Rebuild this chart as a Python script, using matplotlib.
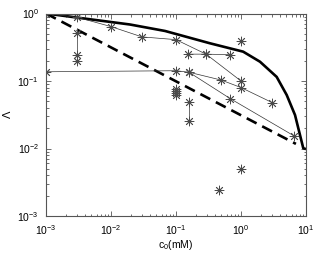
import matplotlib
matplotlib.use("Agg")
import matplotlib.pyplot as plt
import numpy as np

plt.rcParams['font.family'] = ['Liberation Sans', 'DejaVu Sans']
plt.rcParams['mathtext.default'] = 'regular'

# theory curves
curve_c = [0.001, 0.0196, 0.0678, 0.333, 1.08, 1.96, 3.54, 5.05, 6.78, 8.09, 9.08, 10.0]
curve_L = [1.0, 0.687, 0.551, 0.362, 0.272, 0.193, 0.115, 0.062, 0.0313, 0.0158, 0.0101, 0.0098]
dash_c = [0.001, 7.0]
dash_L = [1.0, 0.0117]

# connected data series
s1_c = [0.001, 0.003, 0.01, 0.03, 0.1, 0.29, 1.0]
s1_L = [1.0, 0.88, 0.64, 0.45, 0.41, 0.25, 0.1]
s2_c = [0.001, 0.1, 0.158, 0.5, 1.0, 3.0]
s2_L = [0.137, 0.142, 0.135, 0.103, 0.08, 0.048]
s3_c = [0.158, 0.68, 6.6]
s3_L = [0.135, 0.055, 0.0153]
s4_c = [0.155, 0.29, 0.68]
s4_L = [0.25, 0.25, 0.245]
s5_c = [0.003, 0.003, 0.003]
s5_L = [0.51, 0.24, 0.198]
s6_c = [0.158, 0.158]
s6_L = [0.049, 0.0255]

# isolated points
iso_c = [1.0, 0.1, 0.1, 0.1, 0.1, 1.0, 0.46]
iso_L = [0.395, 0.075, 0.07, 0.066, 0.062, 0.0049, 0.0024]

fig = plt.figure(figsize=(3.19, 2.57), dpi=100)
ax = fig.add_axes([46/319, 1-216/257, 260/319, 202.5/257])

ax.plot(curve_c, curve_L, color='black', lw=1.9, solid_capstyle='butt')
ax.plot(dash_c, dash_L, color='black', lw=1.9, dashes=(4.2, 2.4))

star = dict(marker=(8, 2, 0), markersize=6.8, markeredgewidth=0.6,
            markeredgecolor='#4a4a4a', markerfacecolor='none')
for xs, ys in [(s1_c, s1_L), (s2_c, s2_L), (s3_c, s3_L), (s4_c, s4_L),
               (s5_c, s5_L), (s6_c, s6_L)]:
    ax.plot(xs, ys, color='#333333', lw=0.5, **star)
ax.plot(iso_c, iso_L, linestyle='none', **star)

ax.set_xscale('log')
ax.set_yscale('log')
ax.set_xlim(1e-3, 10)
ax.set_ylim(1e-3, 1)

for sp in ax.spines.values():
    sp.set_color('#555555')
    sp.set_linewidth(0.8)
ax.tick_params(which='both', direction='in', top=True, right=True,
               colors='#555555', labelcolor='black', labelsize=7.5, width=0.6)
ax.tick_params(which='major', length=3.5, pad=5)
ax.tick_params(which='minor', length=1.8)

ax.set_xlabel('c$_0$(mM)', fontsize=7.5, labelpad=1)
ax.set_ylabel('Λ', fontsize=8, labelpad=3)

fig.savefig('out.png', dpi=100)
